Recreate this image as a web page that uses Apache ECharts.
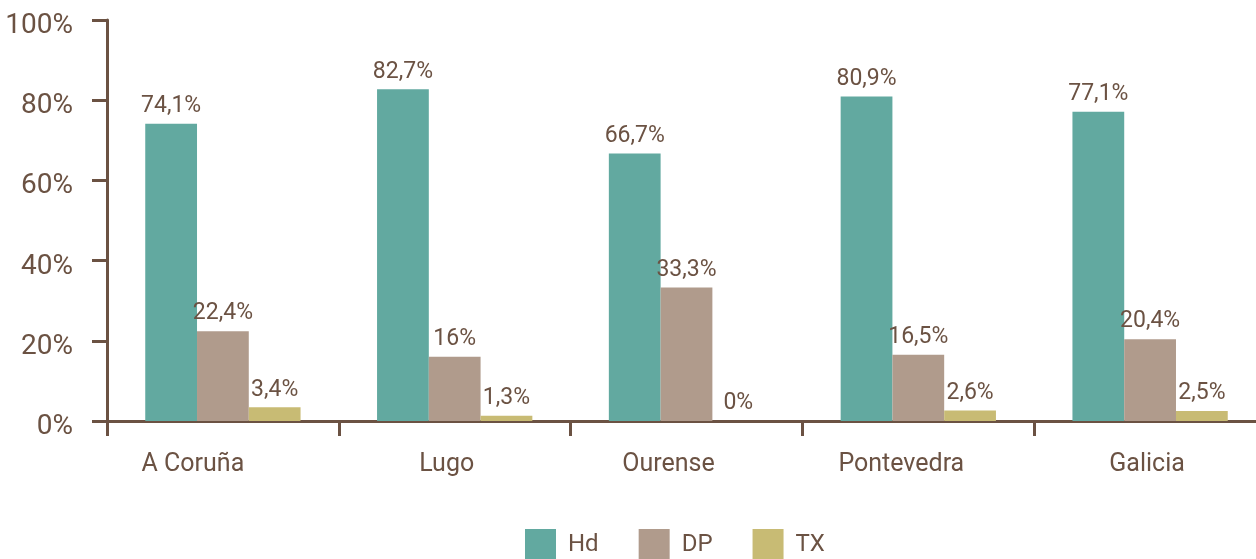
<!DOCTYPE html>
<html>
<head>
<meta charset="utf-8">
<script src="https://cdn.jsdelivr.net/npm/echarts@6/dist/echarts.min.js"></script>
<style>
  html, body { margin: 0; padding: 0; background: #fff; overflow: hidden; }
  /* the plot runs a little past the right edge of the picture */
  #chart { width: 1266px; height: 559px; }
</style>
</head>
<body>
<div id="chart"></div>
<script>
var categories = ['A Coruña', 'Lugo', 'Ourense', 'Pontevedra', 'Galicia'];
var seriesNames = ['Hd', 'DP', 'TX'];
var hdValues = [74.1, 82.7, 66.7, 80.9, 77.1];
var dpValues = [22.4, 16, 33.3, 16.5, 20.4];
var txValues = [3.4, 1.3, 0, 2.6, 2.5];
var yTicks = [0, 20, 40, 60, 80, 100];

var brown = '#6b5243';
var font = 'Roboto, sans-serif';
var colors = ['#62a9a0', '#b09b8c', '#c8bb74'];
// the category names sit a bit left of their slot centres in the original
var labelNudge = [30, 8, 18, 17, 3];

function pct(v) {
	return String(v).replace('.', ',') + '%';
}

function makeSeries(name, data, color) {
	return {
		name: name,
		type: 'bar',
		data: data,
		barGap: '0%',
		barCategoryGap: '33%',
		itemStyle: { color: color },
		label: {
			show: true,
			position: 'top',
			distance: 6,
			color: brown,
			fontFamily: font,
			fontSize: 23,
			formatter: function (p) { return pct(p.value); }
		}
	};
}

var catRich = {};
for (var i = 0; i < labelNudge.length; i++) {
	catRich['c' + i] = {
		color: brown, fontFamily: font, fontSize: 25,
		padding: [0, labelNudge[i] * 2, 0, 0]
	};
}

var myChart = echarts.init(document.getElementById('chart'));
var option = {
	animation: false,
	grid: { left: 107, right: 0, top: 20, bottom: 138, containLabel: false },
	legend: {
		data: seriesNames,
		top: 524,
		left: 520,
		itemWidth: 31,
		itemHeight: 31,
		itemGap: 40,
		icon: 'rect',
		textStyle: { color: brown, fontFamily: font, fontSize: 24, padding: [0, 0, 0, 7] }
	},
	xAxis: {
		type: 'category',
		data: categories,
		axisLine: { lineStyle: { color: brown, width: 3 } },
		axisTick: { show: true, length: 15, lineStyle: { color: brown, width: 3 } },
		axisLabel: {
			color: brown, fontFamily: font, fontSize: 25, margin: 31,
			formatter: function (v, idx) { return '{c' + idx + '|' + v + '}'; },
			rich: catRich
		}
	},
	yAxis: {
		type: 'value',
		min: yTicks[0],
		max: yTicks[yTicks.length - 1],
		interval: yTicks[1] - yTicks[0],
		axisLine: { show: true, lineStyle: { color: brown, width: 3 } },
		axisTick: { show: true, length: 15, lineStyle: { color: brown, width: 3 } },
		splitLine: { show: false },
		axisLabel: {
			color: brown, fontFamily: font, fontSize: 28, margin: 34,
			verticalAlign: 'top', lineHeight: 12,
			formatter: '{value}%'
		}
	},
	series: [
		makeSeries(seriesNames[0], hdValues, colors[0]),
		makeSeries(seriesNames[1], dpValues, colors[1]),
		makeSeries(seriesNames[2], txValues, colors[2])
	]
};
myChart.setOption(option);
</script>
</body>
</html>
